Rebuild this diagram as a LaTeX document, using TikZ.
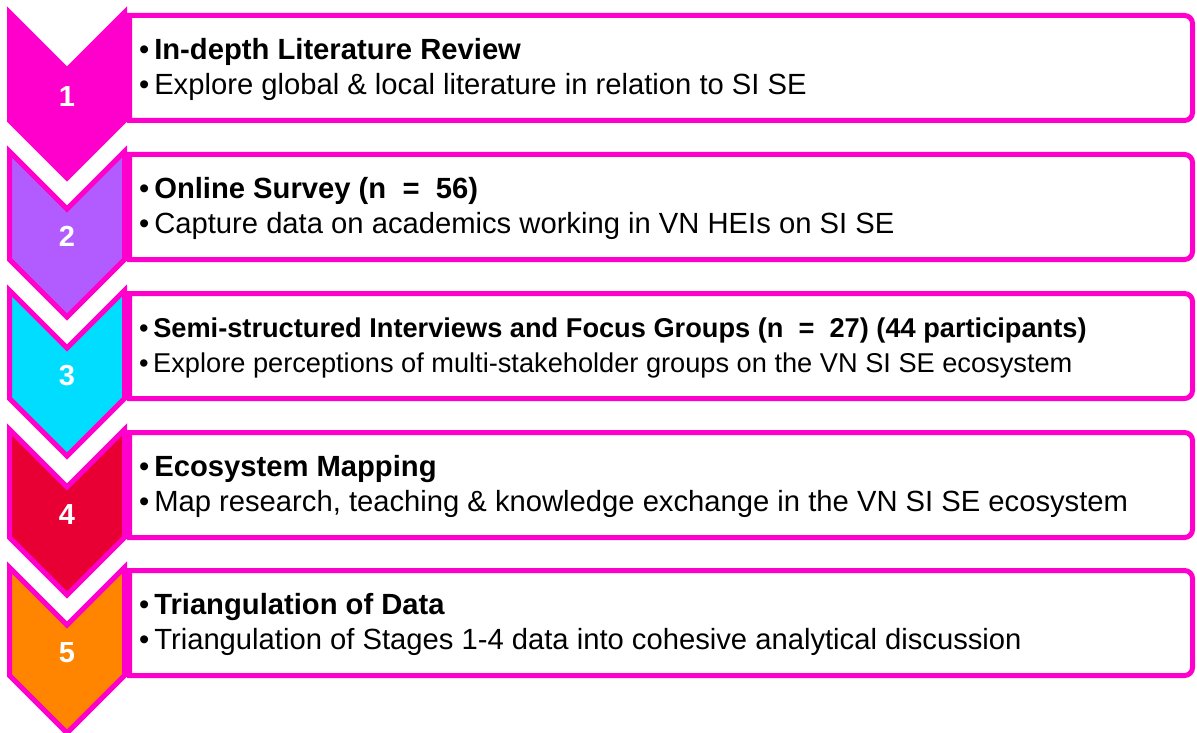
\documentclass[tikz,border=0pt]{standalone}
\usepackage{fontspec}
\setmainfont{Liberation Sans}
\definecolor{mag}{RGB}{255,0,204}
\definecolor{cA}{RGB}{255,0,204}
\definecolor{cB}{RGB}{178,92,255}
\definecolor{cC}{RGB}{0,221,255}
\definecolor{cD}{RGB}{232,0,52}
\definecolor{cE}{RGB}{255,133,0}
\begin{document}
\begin{tikzpicture}[x=1pt,y=-1pt,
  chev/.style={draw=mag, line width=5pt, line join=miter},
  stepbox/.style={draw=mag, line width=5pt, fill=white},
  numtext/.style={text=white, font=\fontsize{29}{29}\selectfont\bfseries, anchor=base, inner sep=0pt},
  txtline/.style={anchor=base west, inner sep=0pt}]
\useasboundingbox (0,0) rectangle (1197,733);
\clip (0,0) rectangle (1197,733);
\foreach \i/\T/\c/\fs/\title/\desc in {
  1/10/cA/29.2/{In-depth Literature Review}/{Explore global \& local literature in relation to SI SE},
  2/149/cB/29.2/{Online Survey (n~~=~~56)}/{Capture data on academics working in VN HEIs on SI SE},
  3/288/cC/27.2/{Semi-structured Interviews and Focus Groups (n~~=~~27) (44 participants)}/{Explore perceptions of multi-stakeholder groups on the VN SI SE ecosystem},
  4/427/cD/29.2/{Ecosystem Mapping}/{Map research, teaching \& knowledge exchange in the VN SI SE ecosystem},
  5/565/cE/29.2/{Triangulation of Data}/{Triangulation of Stages 1-4 data into cohesive analytical discussion}}
{
  % box
  \draw[stepbox] (129.5,\T+5.5) -- (1184.5,\T+5.5)
     arc[start angle=90, end angle=0, radius=8pt] -- (1192.5,\T+102.5)
     arc[start angle=0, end angle=-90, radius=8pt] -- (129.5,\T+110.5) -- cycle;
  % chevron
  \draw[chev, fill=\c] (9.5,\T+2.5) -- (67,\T+60) -- (124.5,\T+2.5) -- (124.5,\T+110.5)
     -- (67,\T+168) -- (9.5,\T+110.5) -- cycle;
  \node[numtext] (num\i) at (67,\T+97) {\i};
  \node[txtline, font=\fontsize{\fs}{\fs}\selectfont] (title\i) at (139,\T+49.5) {•\,\textbf{\title}};
  \node[txtline, font=\fontsize{\fs}{\fs}\selectfont] (desc\i) at (139,\T+84.5) {•\,\desc};
}
\end{tikzpicture}
\end{document}
